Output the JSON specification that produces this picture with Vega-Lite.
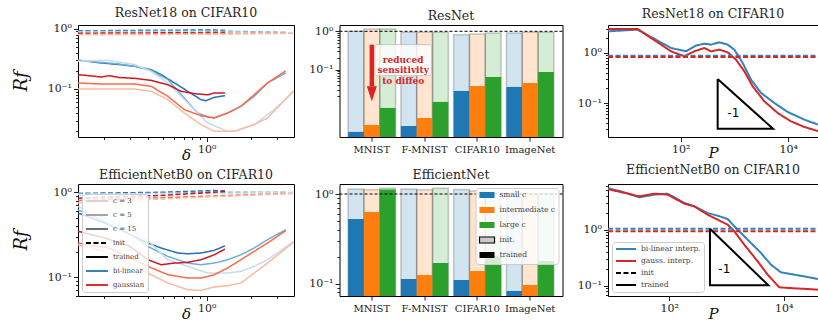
{
 "$schema": "https://vega.github.io/schema/vega-lite/v6.json",
 "background": "white",
 "padding": {"left": 11, "top": 6, "right": 0, "bottom": 0},
 "config": {
  "font": "DejaVu Serif",
  "view": {"stroke": "black", "strokeWidth": 1},
  "title": {"font": "DejaVu Serif", "fontSize": 12.5, "fontWeight": "normal", "color": "#262626", "offset": 3},
  "axis": {"domain": false, "grid": false, "labelFont": "DejaVu Serif", "labelFontSize": 11, "labelColor": "#222", "labelOverlap": false, "labelFlush": false, "labelPadding": 2, "tickColor": "#222", "tickWidth": 1, "titleFont": "DejaVu Serif", "titleFontStyle": "italic", "titleFontWeight": "normal", "titleColor": "#111"},
  "axisX": {"titleFontSize": 15, "titlePadding": -7},
  "axisY": {"titleFontSize": 18, "titlePadding": 17},
  "legend": {"labelFont": "DejaVu Serif"}
 },
 "datasets": {
  "resnet_delta": [
   {"series":"bilinear c=15","state":"trained","delta":0.1325,"Rf":0.299},{"series":"bilinear c=15","state":"trained","delta":0.16,"Rf":0.285},{"series":"bilinear c=15","state":"trained","delta":0.191,"Rf":0.27},{"series":"bilinear c=15","state":"trained","delta":0.25,"Rf":0.255},{"series":"bilinear c=15","state":"trained","delta":0.322,"Rf":0.2375},{"series":"bilinear c=15","state":"trained","delta":0.418,"Rf":0.209},{"series":"bilinear c=15","state":"trained","delta":0.489,"Rf":0.173},{"series":"bilinear c=15","state":"trained","delta":0.603,"Rf":0.126},{"series":"bilinear c=15","state":"trained","delta":0.743,"Rf":0.0915},{"series":"bilinear c=15","state":"trained","delta":0.915,"Rf":0.0665},{"series":"bilinear c=15","state":"trained","delta":0.989,"Rf":0.064},{"series":"bilinear c=15","state":"trained","delta":1.126,"Rf":0.0727},{"series":"bilinear c=15","state":"trained","delta":1.332,"Rf":0.0775},
   {"series":"bilinear c=5","state":"trained","delta":0.1325,"Rf":0.299},{"series":"bilinear c=5","state":"trained","delta":0.191,"Rf":0.276},{"series":"bilinear c=5","state":"trained","delta":0.25,"Rf":0.26},{"series":"bilinear c=5","state":"trained","delta":0.322,"Rf":0.2375},{"series":"bilinear c=5","state":"trained","delta":0.418,"Rf":0.203},{"series":"bilinear c=5","state":"trained","delta":0.543,"Rf":0.143},{"series":"bilinear c=5","state":"trained","delta":0.704,"Rf":0.0709},{"series":"bilinear c=5","state":"trained","delta":0.869,"Rf":0.04},{"series":"bilinear c=5","state":"trained","delta":1.016,"Rf":0.0345},{"series":"bilinear c=5","state":"trained","delta":1.126,"Rf":0.0331},{"series":"bilinear c=5","state":"trained","delta":1.39,"Rf":0.04},{"series":"bilinear c=5","state":"trained","delta":1.711,"Rf":0.0516},{"series":"bilinear c=5","state":"trained","delta":2.108,"Rf":0.0755},{"series":"bilinear c=5","state":"trained","delta":2.6,"Rf":0.126},{"series":"bilinear c=5","state":"trained","delta":3.46,"Rf":0.184},
   {"series":"bilinear c=3","state":"trained","delta":0.1325,"Rf":0.288},{"series":"bilinear c=3","state":"trained","delta":0.212,"Rf":0.299},{"series":"bilinear c=3","state":"trained","delta":0.322,"Rf":0.254},{"series":"bilinear c=3","state":"trained","delta":0.418,"Rf":0.196},{"series":"bilinear c=3","state":"trained","delta":0.543,"Rf":0.126},{"series":"bilinear c=3","state":"trained","delta":0.743,"Rf":0.0586},{"series":"bilinear c=3","state":"trained","delta":1.016,"Rf":0.0273},{"series":"bilinear c=3","state":"trained","delta":1.39,"Rf":0.0199},{"series":"bilinear c=3","state":"trained","delta":1.541,"Rf":0.0199},{"series":"bilinear c=3","state":"trained","delta":2.108,"Rf":0.0256},{"series":"bilinear c=3","state":"trained","delta":2.88,"Rf":0.0454},{"series":"bilinear c=3","state":"trained","delta":3.94,"Rf":0.0915},
   {"series":"gaussian c=15","state":"trained","delta":0.1325,"Rf":0.173},{"series":"gaussian c=15","state":"trained","delta":0.155,"Rf":0.1665},{"series":"gaussian c=15","state":"trained","delta":0.191,"Rf":0.158},{"series":"gaussian c=15","state":"trained","delta":0.2165,"Rf":0.1665},{"series":"gaussian c=15","state":"trained","delta":0.253,"Rf":0.155},{"series":"gaussian c=15","state":"trained","delta":0.322,"Rf":0.15},{"series":"gaussian c=15","state":"trained","delta":0.418,"Rf":0.139},{"series":"gaussian c=15","state":"trained","delta":0.543,"Rf":0.118},{"series":"gaussian c=15","state":"trained","delta":0.669,"Rf":0.0915},{"series":"gaussian c=15","state":"trained","delta":0.823,"Rf":0.0837},{"series":"gaussian c=15","state":"trained","delta":1.016,"Rf":0.08},{"series":"gaussian c=15","state":"trained","delta":1.126,"Rf":0.0859},{"series":"gaussian c=15","state":"trained","delta":1.332,"Rf":0.0859},
   {"series":"gaussian c=5","state":"trained","delta":0.1325,"Rf":0.1257},{"series":"gaussian c=5","state":"trained","delta":0.191,"Rf":0.121},{"series":"gaussian c=5","state":"trained","delta":0.322,"Rf":0.121},{"series":"gaussian c=5","state":"trained","delta":0.418,"Rf":0.1107},{"series":"gaussian c=5","state":"trained","delta":0.543,"Rf":0.0755},{"series":"gaussian c=5","state":"trained","delta":0.704,"Rf":0.0454},{"series":"gaussian c=5","state":"trained","delta":0.915,"Rf":0.0361},{"series":"gaussian c=5","state":"trained","delta":1.126,"Rf":0.0331},{"series":"gaussian c=5","state":"trained","delta":1.39,"Rf":0.04},{"series":"gaussian c=5","state":"trained","delta":1.711,"Rf":0.0516},{"series":"gaussian c=5","state":"trained","delta":2.108,"Rf":0.0805},{"series":"gaussian c=5","state":"trained","delta":2.6,"Rf":0.126},{"series":"gaussian c=5","state":"trained","delta":3.46,"Rf":0.2},
   {"series":"gaussian c=3","state":"trained","delta":0.1325,"Rf":0.1},{"series":"gaussian c=3","state":"trained","delta":0.191,"Rf":0.1},{"series":"gaussian c=3","state":"trained","delta":0.322,"Rf":0.1},{"series":"gaussian c=3","state":"trained","delta":0.418,"Rf":0.0915},{"series":"gaussian c=3","state":"trained","delta":0.543,"Rf":0.0665},{"series":"gaussian c=3","state":"trained","delta":0.704,"Rf":0.04},{"series":"gaussian c=3","state":"trained","delta":0.915,"Rf":0.0256},{"series":"gaussian c=3","state":"trained","delta":1.126,"Rf":0.0199},{"series":"gaussian c=3","state":"trained","delta":1.541,"Rf":0.0199},{"series":"gaussian c=3","state":"trained","delta":2.108,"Rf":0.0256},{"series":"gaussian c=3","state":"trained","delta":2.6,"Rf":0.0331},{"series":"gaussian c=3","state":"trained","delta":3.94,"Rf":0.095},
   {"series":"bilinear c=15","state":"init","delta":0.1325,"Rf":0.92},{"series":"bilinear c=15","state":"init","delta":0.4,"Rf":0.94},{"series":"bilinear c=15","state":"init","delta":1.0,"Rf":0.95},{"series":"bilinear c=15","state":"init","delta":1.332,"Rf":0.94},
   {"series":"bilinear c=5","state":"init","delta":0.1325,"Rf":0.9},{"series":"bilinear c=5","state":"init","delta":1.0,"Rf":0.92},{"series":"bilinear c=5","state":"init","delta":3.46,"Rf":0.87},
   {"series":"bilinear c=3","state":"init","delta":0.1325,"Rf":0.88},{"series":"bilinear c=3","state":"init","delta":1.0,"Rf":0.88},{"series":"bilinear c=3","state":"init","delta":3.94,"Rf":0.85},
   {"series":"gaussian c=15","state":"init","delta":0.1325,"Rf":0.84},{"series":"gaussian c=15","state":"init","delta":1.0,"Rf":0.86},{"series":"gaussian c=15","state":"init","delta":1.332,"Rf":0.86},
   {"series":"gaussian c=5","state":"init","delta":0.1325,"Rf":0.81},{"series":"gaussian c=5","state":"init","delta":1.0,"Rf":0.83},{"series":"gaussian c=5","state":"init","delta":3.46,"Rf":0.84},
   {"series":"gaussian c=3","state":"init","delta":0.1325,"Rf":0.79},{"series":"gaussian c=3","state":"init","delta":1.0,"Rf":0.81},{"series":"gaussian c=3","state":"init","delta":3.94,"Rf":0.84}
  ],
  "effnet_delta": [
   {"series":"bilinear c=15","state":"trained","delta":0.1325,"Rf":0.57},{"series":"bilinear c=15","state":"trained","delta":0.191,"Rf":0.45},{"series":"bilinear c=15","state":"trained","delta":0.3,"Rf":0.32},{"series":"bilinear c=15","state":"trained","delta":0.397,"Rf":0.252},{"series":"bilinear c=15","state":"trained","delta":0.489,"Rf":0.22},{"series":"bilinear c=15","state":"trained","delta":0.635,"Rf":0.192},{"series":"bilinear c=15","state":"trained","delta":0.743,"Rf":0.188},{"series":"bilinear c=15","state":"trained","delta":0.915,"Rf":0.192},{"series":"bilinear c=15","state":"trained","delta":1.126,"Rf":0.2065},{"series":"bilinear c=15","state":"trained","delta":1.332,"Rf":0.233},
   {"series":"bilinear c=5","state":"trained","delta":0.1325,"Rf":0.62},{"series":"bilinear c=5","state":"trained","delta":0.191,"Rf":0.47},{"series":"bilinear c=5","state":"trained","delta":0.3,"Rf":0.32},{"series":"bilinear c=5","state":"trained","delta":0.397,"Rf":0.23},{"series":"bilinear c=5","state":"trained","delta":0.543,"Rf":0.175},{"series":"bilinear c=5","state":"trained","delta":0.743,"Rf":0.146},{"series":"bilinear c=5","state":"trained","delta":0.915,"Rf":0.1397},{"series":"bilinear c=5","state":"trained","delta":1.126,"Rf":0.146},{"series":"bilinear c=5","state":"trained","delta":1.39,"Rf":0.16},{"series":"bilinear c=5","state":"trained","delta":1.711,"Rf":0.183},{"series":"bilinear c=5","state":"trained","delta":2.108,"Rf":0.22},{"series":"bilinear c=5","state":"trained","delta":2.6,"Rf":0.276},{"series":"bilinear c=5","state":"trained","delta":3.46,"Rf":0.362},
   {"series":"bilinear c=3","state":"trained","delta":0.1325,"Rf":0.68},{"series":"bilinear c=3","state":"trained","delta":0.2,"Rf":0.5},{"series":"bilinear c=3","state":"trained","delta":0.3,"Rf":0.36},{"series":"bilinear c=3","state":"trained","delta":0.397,"Rf":0.27},{"series":"bilinear c=3","state":"trained","delta":0.543,"Rf":0.16},{"series":"bilinear c=3","state":"trained","delta":0.743,"Rf":0.1336},{"series":"bilinear c=3","state":"trained","delta":1.016,"Rf":0.1115},{"series":"bilinear c=3","state":"trained","delta":1.39,"Rf":0.1115},{"series":"bilinear c=3","state":"trained","delta":1.711,"Rf":0.1167},{"series":"bilinear c=3","state":"trained","delta":2.108,"Rf":0.1336},{"series":"bilinear c=3","state":"trained","delta":2.6,"Rf":0.16},{"series":"bilinear c=3","state":"trained","delta":3.94,"Rf":0.264},
   {"series":"gaussian c=15","state":"trained","delta":0.1325,"Rf":0.346},{"series":"gaussian c=15","state":"trained","delta":0.2,"Rf":0.29},{"series":"gaussian c=15","state":"trained","delta":0.3,"Rf":0.23},{"series":"gaussian c=15","state":"trained","delta":0.397,"Rf":0.16},{"series":"gaussian c=15","state":"trained","delta":0.489,"Rf":0.1397},{"series":"gaussian c=15","state":"trained","delta":0.603,"Rf":0.146},{"series":"gaussian c=15","state":"trained","delta":0.743,"Rf":0.149},{"series":"gaussian c=15","state":"trained","delta":0.915,"Rf":0.16},{"series":"gaussian c=15","state":"trained","delta":1.126,"Rf":0.183},{"series":"gaussian c=15","state":"trained","delta":1.332,"Rf":0.214},
   {"series":"gaussian c=5","state":"trained","delta":0.1325,"Rf":0.252},{"series":"gaussian c=5","state":"trained","delta":0.2165,"Rf":0.22},{"series":"gaussian c=5","state":"trained","delta":0.397,"Rf":0.1336},{"series":"gaussian c=5","state":"trained","delta":0.543,"Rf":0.1066},{"series":"gaussian c=5","state":"trained","delta":0.743,"Rf":0.0973},{"series":"gaussian c=5","state":"trained","delta":0.915,"Rf":0.0973},{"series":"gaussian c=5","state":"trained","delta":1.126,"Rf":0.1066},{"series":"gaussian c=5","state":"trained","delta":1.39,"Rf":0.1277},{"series":"gaussian c=5","state":"trained","delta":1.711,"Rf":0.16},{"series":"gaussian c=5","state":"trained","delta":2.108,"Rf":0.201},{"series":"gaussian c=5","state":"trained","delta":2.6,"Rf":0.252},{"series":"gaussian c=5","state":"trained","delta":3.46,"Rf":0.352},
   {"series":"gaussian c=3","state":"trained","delta":0.1325,"Rf":0.241},{"series":"gaussian c=3","state":"trained","delta":0.2165,"Rf":0.192},{"series":"gaussian c=3","state":"trained","delta":0.397,"Rf":0.1115},{"series":"gaussian c=3","state":"trained","delta":0.543,"Rf":0.085},{"series":"gaussian c=3","state":"trained","delta":0.743,"Rf":0.0709},{"series":"gaussian c=3","state":"trained","delta":0.915,"Rf":0.0696},{"series":"gaussian c=3","state":"trained","delta":1.126,"Rf":0.0762},{"series":"gaussian c=3","state":"trained","delta":1.39,"Rf":0.079},{"series":"gaussian c=3","state":"trained","delta":1.711,"Rf":0.085},{"series":"gaussian c=3","state":"trained","delta":2.108,"Rf":0.1115},{"series":"gaussian c=3","state":"trained","delta":2.6,"Rf":0.146},{"series":"gaussian c=3","state":"trained","delta":3.94,"Rf":0.26},
   {"series":"bilinear c=15","state":"init","delta":0.1325,"Rf":0.97},{"series":"bilinear c=15","state":"init","delta":0.5,"Rf":1.0},{"series":"bilinear c=15","state":"init","delta":1.126,"Rf":1.05},{"series":"bilinear c=15","state":"init","delta":1.332,"Rf":1.04},
   {"series":"bilinear c=5","state":"init","delta":0.1325,"Rf":0.94},{"series":"bilinear c=5","state":"init","delta":1.0,"Rf":1.0},{"series":"bilinear c=5","state":"init","delta":3.46,"Rf":1.0},
   {"series":"bilinear c=3","state":"init","delta":0.1325,"Rf":0.95},{"series":"bilinear c=3","state":"init","delta":1.0,"Rf":0.97},{"series":"bilinear c=3","state":"init","delta":3.94,"Rf":1.0},
   {"series":"gaussian c=15","state":"init","delta":0.1325,"Rf":0.85},{"series":"gaussian c=15","state":"init","delta":0.5,"Rf":0.92},{"series":"gaussian c=15","state":"init","delta":1.332,"Rf":1.02},
   {"series":"gaussian c=5","state":"init","delta":0.1325,"Rf":0.8},{"series":"gaussian c=5","state":"init","delta":1.0,"Rf":0.9},{"series":"gaussian c=5","state":"init","delta":3.46,"Rf":0.97},
   {"series":"gaussian c=3","state":"init","delta":0.1325,"Rf":0.75},{"series":"gaussian c=3","state":"init","delta":1.0,"Rf":0.88},{"series":"gaussian c=3","state":"init","delta":3.94,"Rf":0.97}
  ],
  "resnet_bars": [
   {"dataset":"MNIST","c":"small c","state":"init","Rf":1.0},{"dataset":"MNIST","c":"intermediate c","state":"init","Rf":1.148},{"dataset":"MNIST","c":"large c","state":"init","Rf":1.148},
   {"dataset":"F-MNIST","c":"small c","state":"init","Rf":0.94},{"dataset":"F-MNIST","c":"intermediate c","state":"init","Rf":0.94},{"dataset":"F-MNIST","c":"large c","state":"init","Rf":0.94},
   {"dataset":"CIFAR10","c":"small c","state":"init","Rf":0.816},{"dataset":"CIFAR10","c":"intermediate c","state":"init","Rf":0.85},{"dataset":"CIFAR10","c":"large c","state":"init","Rf":0.9},
   {"dataset":"ImageNet","c":"small c","state":"init","Rf":0.9},{"dataset":"ImageNet","c":"intermediate c","state":"init","Rf":0.94},{"dataset":"ImageNet","c":"large c","state":"init","Rf":0.94},
   {"dataset":"MNIST","c":"small c","state":"trained","Rf":0.00239},{"dataset":"MNIST","c":"intermediate c","state":"trained","Rf":0.00363},{"dataset":"MNIST","c":"large c","state":"trained","Rf":0.01006},
   {"dataset":"F-MNIST","c":"small c","state":"trained","Rf":0.00342},{"dataset":"F-MNIST","c":"intermediate c","state":"trained","Rf":0.00552},{"dataset":"F-MNIST","c":"large c","state":"trained","Rf":0.01442},
   {"dataset":"CIFAR10","c":"small c","state":"trained","Rf":0.0279},{"dataset":"CIFAR10","c":"intermediate c","state":"trained","Rf":0.0377},{"dataset":"CIFAR10","c":"large c","state":"trained","Rf":0.0645},
   {"dataset":"ImageNet","c":"small c","state":"trained","Rf":0.0355},{"dataset":"ImageNet","c":"intermediate c","state":"trained","Rf":0.0451},{"dataset":"ImageNet","c":"large c","state":"trained","Rf":0.0871}
  ],
  "effnet_bars": [
   {"dataset":"MNIST","c":"small c","state":"init","Rf":1.137},{"dataset":"MNIST","c":"intermediate c","state":"init","Rf":1.117},{"dataset":"MNIST","c":"large c","state":"init","Rf":1.157},
   {"dataset":"F-MNIST","c":"small c","state":"init","Rf":1.137},{"dataset":"F-MNIST","c":"intermediate c","state":"init","Rf":1.117},{"dataset":"F-MNIST","c":"large c","state":"init","Rf":1.157},
   {"dataset":"CIFAR10","c":"small c","state":"init","Rf":1.12},{"dataset":"CIFAR10","c":"intermediate c","state":"init","Rf":1.08},{"dataset":"CIFAR10","c":"large c","state":"init","Rf":1.05},
   {"dataset":"ImageNet","c":"small c","state":"init","Rf":1.0},{"dataset":"ImageNet","c":"intermediate c","state":"init","Rf":1.0},{"dataset":"ImageNet","c":"large c","state":"init","Rf":1.0},
   {"dataset":"MNIST","c":"small c","state":"trained","Rf":0.526},{"dataset":"MNIST","c":"intermediate c","state":"trained","Rf":0.63},{"dataset":"MNIST","c":"large c","state":"trained","Rf":1.12},
   {"dataset":"F-MNIST","c":"small c","state":"trained","Rf":0.1128},{"dataset":"F-MNIST","c":"intermediate c","state":"trained","Rf":0.125},{"dataset":"F-MNIST","c":"large c","state":"trained","Rf":0.17},
   {"dataset":"CIFAR10","c":"small c","state":"trained","Rf":0.11},{"dataset":"CIFAR10","c":"intermediate c","state":"trained","Rf":0.1386},{"dataset":"CIFAR10","c":"large c","state":"trained","Rf":0.2036},
   {"dataset":"ImageNet","c":"small c","state":"trained","Rf":0.083},{"dataset":"ImageNet","c":"intermediate c","state":"trained","Rf":0.0967},{"dataset":"ImageNet","c":"large c","state":"trained","Rf":0.179}
  ],
  "resnet_P": [
   {"interp":"bi-linear interp.","state":"trained","P":4.45,"Rf":2.7},{"interp":"bi-linear interp.","state":"trained","P":15.8,"Rf":2.92},{"interp":"bi-linear interp.","state":"trained","P":66.1,"Rf":1.258},{"interp":"bi-linear interp.","state":"trained","P":125.5,"Rf":1.08},{"interp":"bi-linear interp.","state":"trained","P":192,"Rf":1.4},{"interp":"bi-linear interp.","state":"trained","P":275,"Rf":1.535},{"interp":"bi-linear interp.","state":"trained","P":366,"Rf":1.466},{"interp":"bi-linear interp.","state":"trained","P":523,"Rf":1.63},{"interp":"bi-linear interp.","state":"trained","P":747,"Rf":1.466},{"interp":"bi-linear interp.","state":"trained","P":993,"Rf":1.165},{"interp":"bi-linear interp.","state":"trained","P":1419,"Rf":0.632},{"interp":"bi-linear interp.","state":"trained","P":2028,"Rf":0.294},{"interp":"bi-linear interp.","state":"trained","P":3109,"Rf":0.16},{"interp":"bi-linear interp.","state":"trained","P":5500,"Rf":0.101},{"interp":"bi-linear interp.","state":"trained","P":9730,"Rf":0.0668},{"interp":"bi-linear interp.","state":"trained","P":19860,"Rf":0.047},{"interp":"bi-linear interp.","state":"trained","P":35650,"Rf":0.0375},
   {"interp":"gauss. interp.","state":"trained","P":4.45,"Rf":3.0},{"interp":"gauss. interp.","state":"trained","P":15.8,"Rf":3.0},{"interp":"gauss. interp.","state":"trained","P":66.1,"Rf":1.08},{"interp":"gauss. interp.","state":"trained","P":116.6,"Rf":0.858},{"interp":"gauss. interp.","state":"trained","P":179,"Rf":1.08},{"interp":"gauss. interp.","state":"trained","P":275,"Rf":1.258},{"interp":"gauss. interp.","state":"trained","P":366,"Rf":1.08},{"interp":"gauss. interp.","state":"trained","P":523,"Rf":1.165},{"interp":"gauss. interp.","state":"trained","P":747,"Rf":1.03},{"interp":"gauss. interp.","state":"trained","P":1067,"Rf":0.736},{"interp":"gauss. interp.","state":"trained","P":1524,"Rf":0.431},{"interp":"gauss. interp.","state":"trained","P":2178,"Rf":0.217},{"interp":"gauss. interp.","state":"trained","P":3586,"Rf":0.109},{"interp":"gauss. interp.","state":"trained","P":6340,"Rf":0.0638},{"interp":"gauss. interp.","state":"trained","P":11220,"Rf":0.0435},{"interp":"gauss. interp.","state":"trained","P":19860,"Rf":0.0336},{"interp":"gauss. interp.","state":"trained","P":35650,"Rf":0.0278},
   {"interp":"bi-linear interp.","state":"init","P":4.45,"Rf":0.885},{"interp":"bi-linear interp.","state":"init","P":35650,"Rf":0.885},
   {"interp":"gauss. interp.","state":"init","P":4.45,"Rf":0.832},{"interp":"gauss. interp.","state":"init","P":35650,"Rf":0.832}
  ],
  "effnet_P": [
   {"interp":"bi-linear interp.","state":"trained","P":8.48,"Rf":5.4},{"interp":"bi-linear interp.","state":"trained","P":14.3,"Rf":4.76},{"interp":"bi-linear interp.","state":"trained","P":29.9,"Rf":3.73},{"interp":"bi-linear interp.","state":"trained","P":54.7,"Rf":4.16},{"interp":"bi-linear interp.","state":"trained","P":93.6,"Rf":4.33},{"interp":"bi-linear interp.","state":"trained","P":183,"Rf":2.96},{"interp":"bi-linear interp.","state":"trained","P":273,"Rf":2.58},{"interp":"bi-linear interp.","state":"trained","P":468,"Rf":1.96},{"interp":"bi-linear interp.","state":"trained","P":701,"Rf":1.76},{"interp":"bi-linear interp.","state":"trained","P":1048,"Rf":1.536},{"interp":"bi-linear interp.","state":"trained","P":1567,"Rf":0.993},{"interp":"bi-linear interp.","state":"trained","P":2343,"Rf":0.66},{"interp":"bi-linear interp.","state":"trained","P":4010,"Rf":0.383},{"interp":"bi-linear interp.","state":"trained","P":6000,"Rf":0.237},{"interp":"bi-linear interp.","state":"trained","P":8970,"Rf":0.1735},{"interp":"bi-linear interp.","state":"trained","P":15340,"Rf":0.1577},{"interp":"bi-linear interp.","state":"trained","P":26240,"Rf":0.1433},{"interp":"bi-linear interp.","state":"trained","P":39800,"Rf":0.132},
   {"interp":"gauss. interp.","state":"trained","P":8.48,"Rf":5.2},{"interp":"gauss. interp.","state":"trained","P":14.3,"Rf":4.63},{"interp":"gauss. interp.","state":"trained","P":29.9,"Rf":3.88},{"interp":"gauss. interp.","state":"trained","P":54.7,"Rf":4.33},{"interp":"gauss. interp.","state":"trained","P":93.6,"Rf":4.16},{"interp":"gauss. interp.","state":"trained","P":183,"Rf":2.88},{"interp":"gauss. interp.","state":"trained","P":273,"Rf":2.58},{"interp":"gauss. interp.","state":"trained","P":468,"Rf":1.83},{"interp":"gauss. interp.","state":"trained","P":701,"Rf":1.495},{"interp":"gauss. interp.","state":"trained","P":1048,"Rf":1.218},{"interp":"gauss. interp.","state":"trained","P":1370,"Rf":0.928},{"interp":"gauss. interp.","state":"trained","P":2048,"Rf":0.538},{"interp":"gauss. interp.","state":"trained","P":3506,"Rf":0.272},{"interp":"gauss. interp.","state":"trained","P":5245,"Rf":0.1577},{"interp":"gauss. interp.","state":"trained","P":8380,"Rf":0.094},{"interp":"gauss. interp.","state":"trained","P":15340,"Rf":0.0902},{"interp":"gauss. interp.","state":"trained","P":26240,"Rf":0.0877},{"interp":"gauss. interp.","state":"trained","P":39800,"Rf":0.0853},
   {"interp":"bi-linear interp.","state":"init","P":8.48,"Rf":1.035},{"interp":"bi-linear interp.","state":"init","P":39800,"Rf":1.035},
   {"interp":"gauss. interp.","state":"init","P":8.48,"Rf":0.928},{"interp":"gauss. interp.","state":"init","P":39800,"Rf":0.928}
  ],
  "resnet_slope": [{"vertex":1,"P":486,"Rf":0.303},{"vertex":2,"P":486,"Rf":0.0311},{"vertex":3,"P":5197,"Rf":0.0311},{"vertex":4,"P":486,"Rf":0.303}],
  "effnet_slope": [{"vertex":1,"P":514,"Rf":1.035},{"vertex":2,"P":514,"Rf":0.1019},{"vertex":3,"P":5390,"Rf":0.1019},{"vertex":4,"P":514,"Rf":1.035}]
 },
 "columns": 3,
 "spacing": {"row": 47, "column": 45.5},
 "bounds": "flush",
 "resolve": {"scale": {"color": "independent", "stroke": "independent", "strokeDash": "independent", "x": "independent", "y": "independent", "xOffset": "independent"}, "legend": {"color": "independent", "stroke": "independent", "strokeDash": "independent"}},
 "concat": [
   {"width": 216, "height": 112, "title": "ResNet18 on CIFAR10",
    "data": {"name": "resnet_delta"},
    "mark": {"type": "line", "strokeWidth": 1.5, "clip": true},
    "encoding": {
     "x": {"field": "delta", "type": "quantitative", "scale": {"type": "log", "domain": [0.1325, 3.94], "nice": false},
      "axis": {"title": "δ", "values": [0.2,0.3,0.4,0.5,0.6,0.7,0.8,0.9,1,2,3], "labelExpr": "datum.value == 1 ? '10⁰' : ''", "tickSize": {"condition": {"test": "datum.value == 1", "value": 4.5}, "value": 2.5}}},
     "y": {"field": "Rf", "type": "quantitative", "scale": {"type": "log", "domain": [0.016, 1.15], "nice": false},
      "axis": {"title": "Rƒ", "values": [0.02,0.03,0.04,0.05,0.06,0.07,0.08,0.09,0.1,0.2,0.3,0.4,0.5,0.6,0.7,0.8,0.9,1], "labelExpr": "datum.value == 1 ? '10⁰' : datum.value == 0.1 ? '10⁻¹' : ''", "tickSize": {"condition": {"test": "datum.value == 1 || datum.value == 0.1", "value": 4.5}, "value": 2.5}}},
     "color": {"field": "series", "type": "nominal", "scale": {"domain": ["bilinear c=3","bilinear c=5","bilinear c=15","gaussian c=3","gaussian c=5","gaussian c=15"], "range": ["#c6dbef","#6baed6","#2171b5","#fcbba1","#fb6a4a","#cb181d"]}, "legend": null},
     "strokeDash": {"field": "state", "type": "nominal", "scale": {"domain": ["init","trained"], "range": [[5,2.5],[1,0]]}, "legend": null}
    }
   },
   {"width": 223, "height": 112, "title": "ResNet",
    "resolve": {"scale": {"x": "independent"}},
    "layer": [
     {"data": {"name": "resnet_bars"},
      "encoding": {
       "x": {"field": "dataset", "type": "nominal", "sort": ["MNIST","F-MNIST","CIFAR10","ImageNet"], "scale": {"paddingInner": 0.1, "paddingOuter": 0.163}, "axis": {"title": null, "labelAngle": 0, "labelFontSize": 10, "tickSize": 4, "labelPadding": 3}},
       "xOffset": {"field": "c", "type": "nominal", "sort": ["small c","intermediate c","large c"], "scale": {"paddingInner": 0, "paddingOuter": 0}},
       "y": {"field": "Rf", "type": "quantitative", "scale": {"type": "log", "domain": [0.00176, 1.46], "nice": false},
        "axis": {"title": null, "values": [0.02,0.03,0.04,0.05,0.06,0.07,0.08,0.09,0.1,0.2,0.3,0.4,0.5,0.6,0.7,0.8,0.9,1], "labelExpr": "datum.value == 1 ? '10⁰' : datum.value == 0.1 ? '10⁻¹' : ''", "tickSize": {"condition": {"test": "datum.value == 1 || datum.value == 0.1", "value": 4.5}, "value": 2.5}}},
       "y2": {"datum": 0.00176},
       "color": {"field": "c", "type": "nominal", "scale": {"domain": ["small c","intermediate c","large c"], "range": ["#1f77b4","#ff7f0e","#2ca02c"]}, "legend": null}
      },
      "layer": [
       {"transform": [{"filter": "datum.state == 'init'"}], "mark": {"type": "bar", "fillOpacity": 0.2, "stroke": "black", "strokeOpacity": 0.2, "strokeWidth": 1.5}},
       {"transform": [{"filter": "datum.state == 'trained'"}], "mark": {"type": "bar"}}
      ]
     },
     {"data": {"values": [{}]}, "mark": {"type": "rule", "strokeDash": [3,2], "color": "black", "strokeWidth": 1}, "encoding": {"y": {"datum": 1, "type": "quantitative"}}},
     {"data": {"values": [{}]},
      "layer": [
       {"mark": {"type": "rect", "fill": "white", "fillOpacity": 0.8, "stroke": "#bbbbbb", "strokeWidth": 0.8, "cornerRadius": 2},
        "encoding": {"x": {"datum": 0.159, "type": "quantitative", "scale": {"domain": [0, 1]}, "axis": null}, "x2": {"datum": 0.4125}, "y": {"datum": 0.448, "type": "quantitative"}, "y2": {"datum": 0.0698}}},
       {"mark": {"type": "rule", "color": "#d62728", "strokeWidth": 4.5},
        "encoding": {"x": {"datum": 0.145, "type": "quantitative"}, "y": {"datum": 0.448, "type": "quantitative"}, "y2": {"datum": 0.037}}},
       {"mark": {"type": "point", "shape": "M-0.67,-1L0.67,-1L0,1Z", "size": 225, "filled": true, "color": "#d62728", "opacity": 1},
        "encoding": {"x": {"datum": 0.145, "type": "quantitative"}, "y": {"datum": 0.0235, "type": "quantitative"}}},
       {"mark": {"type": "text", "text": ["reduced","sensitivity","to diffeo"], "font": "DejaVu Serif", "fontWeight": "bold", "fontSize": 9, "color": "#d62728", "lineHeight": 10.3, "align": "center", "baseline": "middle"},
        "encoding": {"x": {"datum": 0.2857, "type": "quantitative"}, "y": {"datum": 0.179, "type": "quantitative"}}}
      ]
     }
    ]
   },
   {"width": 210, "height": 112, "title": "ResNet18 on CIFAR10",
    "layer": [
     {"data": {"name": "resnet_P"}, "mark": {"type": "line", "strokeWidth": 2, "clip": true},
      "encoding": {
       "x": {"field": "P", "type": "quantitative", "scale": {"type": "log", "domain": [4.45, 35650], "nice": false}, "axis": {"title": "P", "titlePadding": -9, "values": [100, 10000], "labelExpr": "datum.value == 100 ? '10²' : '10⁴'", "tickSize": 4.5}},
       "y": {"field": "Rf", "type": "quantitative", "scale": {"type": "log", "domain": [0.0212, 3.61], "nice": false},
        "axis": {"title": null, "values": [0.03,0.04,0.05,0.06,0.07,0.08,0.09,0.1,0.2,0.3,0.4,0.5,0.6,0.7,0.8,0.9,1,2,3], "labelExpr": "datum.value == 1 ? '10⁰' : datum.value == 0.1 ? '10⁻¹' : ''", "tickSize": {"condition": {"test": "datum.value == 1 || datum.value == 0.1", "value": 4.5}, "value": 2.5}}},
       "color": {"field": "interp", "type": "nominal", "scale": {"domain": ["bi-linear interp.","gauss. interp."], "range": ["#3182bd","#d62728"]}, "legend": null},
       "strokeDash": {"field": "state", "type": "nominal", "scale": {"domain": ["init","trained"], "range": [[5,2.5],[1,0]]}, "legend": null}
      }},
     {"data": {"name": "resnet_slope"}, "mark": {"type": "line", "color": "black", "strokeWidth": 2},
      "encoding": {"x": {"field": "P", "type": "quantitative"}, "y": {"field": "Rf", "type": "quantitative"}, "order": {"field": "vertex", "type": "quantitative"}}},
     {"data": {"values": [{"label": "-1"}]}, "mark": {"type": "text", "font": "DejaVu Sans", "fontSize": 12, "color": "black"},
      "encoding": {"x": {"datum": 950, "type": "quantitative"}, "y": {"datum": 0.064, "type": "quantitative"}, "text": {"field": "label"}}}
    ]
   },
   {"width": 216, "height": 112, "title": "EfficientNetB0 on CIFAR10",
    "layer": [
     {"data": {"name": "effnet_delta"},
      "mark": {"type": "line", "strokeWidth": 1.5, "clip": true},
      "encoding": {
       "x": {"field": "delta", "type": "quantitative", "scale": {"type": "log", "domain": [0.1325, 3.94], "nice": false},
        "axis": {"title": "δ", "values": [0.2,0.3,0.4,0.5,0.6,0.7,0.8,0.9,1,2,3], "labelExpr": "datum.value == 1 ? '10⁰' : ''", "tickSize": {"condition": {"test": "datum.value == 1", "value": 4.5}, "value": 2.5}}},
       "y": {"field": "Rf", "type": "quantitative", "scale": {"type": "log", "domain": [0.0597, 1.253], "nice": false},
        "axis": {"title": "Rƒ", "values": [0.06,0.07,0.08,0.09,0.1,0.2,0.3,0.4,0.5,0.6,0.7,0.8,0.9,1], "labelExpr": "datum.value == 1 ? '10⁰' : datum.value == 0.1 ? '10⁻¹' : ''", "tickSize": {"condition": {"test": "datum.value == 1 || datum.value == 0.1", "value": 4.5}, "value": 2.5}}},
       "color": {"field": "series", "type": "nominal", "scale": {"domain": ["bilinear c=3","bilinear c=5","bilinear c=15","gaussian c=3","gaussian c=5","gaussian c=15"], "range": ["#c6dbef","#6baed6","#2171b5","#fcbba1","#fb6a4a","#cb181d"]}, "legend": null},
       "strokeDash": {"field": "state", "type": "nominal", "scale": {"domain": ["init","trained"], "range": [[5,2.5],[1,0]]}, "legend": null}
      }
     },
     {"data": {"values": [{"entry": "c = 3"},{"entry": "c = 5"},{"entry": "c = 15"},{"entry": "init"},{"entry": "trained"},{"entry": "bi-linear"},{"entry": "gaussian"}]},
      "transform": [{"filter": "false"}],
      "mark": {"type": "line", "strokeWidth": 2},
      "encoding": {
       "x": {"field": "delta", "type": "quantitative"},
       "y": {"field": "Rf", "type": "quantitative"},
       "stroke": {"field": "entry", "type": "nominal", "scale": {"domain": ["c = 3","c = 5","c = 15","init","trained","bi-linear","gaussian"], "range": ["#d4d4d4","#a3a3a3","#6e6e6e","black","black","#3182bd","#de2d26"]},
        "legend": {"orient": "bottom-left", "offset": 4, "title": null, "symbolType": "M-1,0H6.3", "symbolSize": 36, "symbolStrokeWidth": 2, "labelFont": "DejaVu Serif", "labelFontSize": 7, "labelColor": "#444", "labelOffset": 20, "rowPadding": 6, "padding": 3, "fillColor": "rgba(255,255,255,0.8)", "strokeColor": "#cccccc", "cornerRadius": 3,
         "encode": {"symbols": {"update": {"strokeDash": {"signal": "datum.label == 'init' ? [5, 2.5] : [1, 0]"}}}}}}
      }
     }
    ]
   },
   {"width": 223, "height": 112, "title": "EfficientNet",
    "layer": [
     {"data": {"name": "effnet_bars"},
      "encoding": {
       "x": {"field": "dataset", "type": "nominal", "sort": ["MNIST","F-MNIST","CIFAR10","ImageNet"], "scale": {"paddingInner": 0.1, "paddingOuter": 0.163}, "axis": {"title": null, "labelAngle": 0, "labelFontSize": 10, "tickSize": 4, "labelPadding": 3}},
       "xOffset": {"field": "c", "type": "nominal", "sort": ["small c","intermediate c","large c"], "scale": {"paddingInner": 0, "paddingOuter": 0}},
       "y": {"field": "Rf", "type": "quantitative", "scale": {"type": "log", "domain": [0.0729, 1.293], "nice": false},
        "axis": {"title": null, "values": [0.08,0.09,0.1,0.2,0.3,0.4,0.5,0.6,0.7,0.8,0.9,1], "labelExpr": "datum.value == 1 ? '10⁰' : datum.value == 0.1 ? '10⁻¹' : ''", "tickSize": {"condition": {"test": "datum.value == 1 || datum.value == 0.1", "value": 4.5}, "value": 2.5}}},
       "y2": {"datum": 0.0729},
       "color": {"field": "c", "type": "nominal", "scale": {"domain": ["small c","intermediate c","large c","init.","trained"], "range": ["#1f77b4","#ff7f0e","#2ca02c","#cccccc","black"]},
        "legend": {"orient": "top-right", "offset": 4, "title": null, "symbolType": "M-1,-1H4V1H-1Z", "symbolSize": 36, "labelFont": "DejaVu Serif", "labelFontSize": 7.5, "labelColor": "#444", "labelOffset": 13, "rowPadding": 3, "padding": 3, "fillColor": "rgba(255,255,255,0.8)", "strokeColor": "#cccccc", "cornerRadius": 3,
         "encode": {"symbols": {"update": {"opacity": {"value": 1}, "fillOpacity": {"value": 1}, "stroke": {"signal": "datum.label == 'init.' ? 'black' : 'transparent'"}, "strokeWidth": {"value": 1.2}, "strokeOpacity": {"value": 1}}}}}}
      },
      "layer": [
       {"transform": [{"filter": "datum.state == 'init'"}], "mark": {"type": "bar", "fillOpacity": 0.2, "stroke": "black", "strokeOpacity": 0.2, "strokeWidth": 1.5}},
       {"transform": [{"filter": "datum.state == 'trained'"}], "mark": {"type": "bar"}}
      ]
     },
     {"data": {"values": [{}]}, "mark": {"type": "rule", "strokeDash": [3,2], "color": "black", "strokeWidth": 1}, "encoding": {"y": {"datum": 1, "type": "quantitative"}}}
    ]
   },
   {"width": 210, "height": 112, "title": "EfficientNetB0 on CIFAR10",
    "layer": [
     {"data": {"name": "effnet_P"}, "mark": {"type": "line", "strokeWidth": 2, "clip": true},
      "encoding": {
       "x": {"field": "P", "type": "quantitative", "scale": {"type": "log", "domain": [8.48, 39800], "nice": false}, "axis": {"title": "P", "values": [100, 10000], "labelExpr": "datum.value == 100 ? '10²' : '10⁴'", "tickSize": 4.5}},
       "y": {"field": "Rf", "type": "quantitative", "scale": {"type": "log", "domain": [0.0659, 6.43], "nice": false},
        "axis": {"title": null, "values": [0.07,0.08,0.09,0.1,0.2,0.3,0.4,0.5,0.6,0.7,0.8,0.9,1,2,3,4,5,6], "labelExpr": "datum.value == 1 ? '10⁰' : datum.value == 0.1 ? '10⁻¹' : ''", "tickSize": {"condition": {"test": "datum.value == 1 || datum.value == 0.1", "value": 4.5}, "value": 2.5}}},
       "color": {"field": "interp", "type": "nominal", "scale": {"domain": ["bi-linear interp.","gauss. interp.","init","trained"], "range": ["#3182bd","#d62728","black","black"]},
        "legend": {"orient": "bottom-left", "offset": 4, "title": null, "symbolType": "M-1,0H5.7", "symbolSize": 36, "symbolStrokeWidth": 2, "labelFont": "DejaVu Serif", "labelFontSize": 7.5, "labelColor": "#444", "labelOffset": 18, "rowPadding": 4, "padding": 3, "fillColor": "rgba(255,255,255,0.8)", "strokeColor": "#cccccc", "cornerRadius": 3,
         "encode": {"symbols": {"update": {"strokeDash": {"signal": "datum.label == 'init' ? [5, 2.5] : [1, 0]"}}}}}},
       "strokeDash": {"field": "state", "type": "nominal", "scale": {"domain": ["init","trained"], "range": [[5,2.5],[1,0]]}, "legend": null}
      }},
     {"data": {"name": "effnet_slope"}, "mark": {"type": "line", "color": "black", "strokeWidth": 2},
      "encoding": {"x": {"field": "P", "type": "quantitative"}, "y": {"field": "Rf", "type": "quantitative"}, "order": {"field": "vertex", "type": "quantitative"}}},
     {"data": {"values": [{"label": "-1"}]}, "mark": {"type": "text", "font": "DejaVu Sans", "fontSize": 12, "color": "black"},
      "encoding": {"x": {"datum": 916, "type": "quantitative"}, "y": {"datum": 0.199, "type": "quantitative"}, "text": {"field": "label"}}}
    ]
   }
 ]
}
